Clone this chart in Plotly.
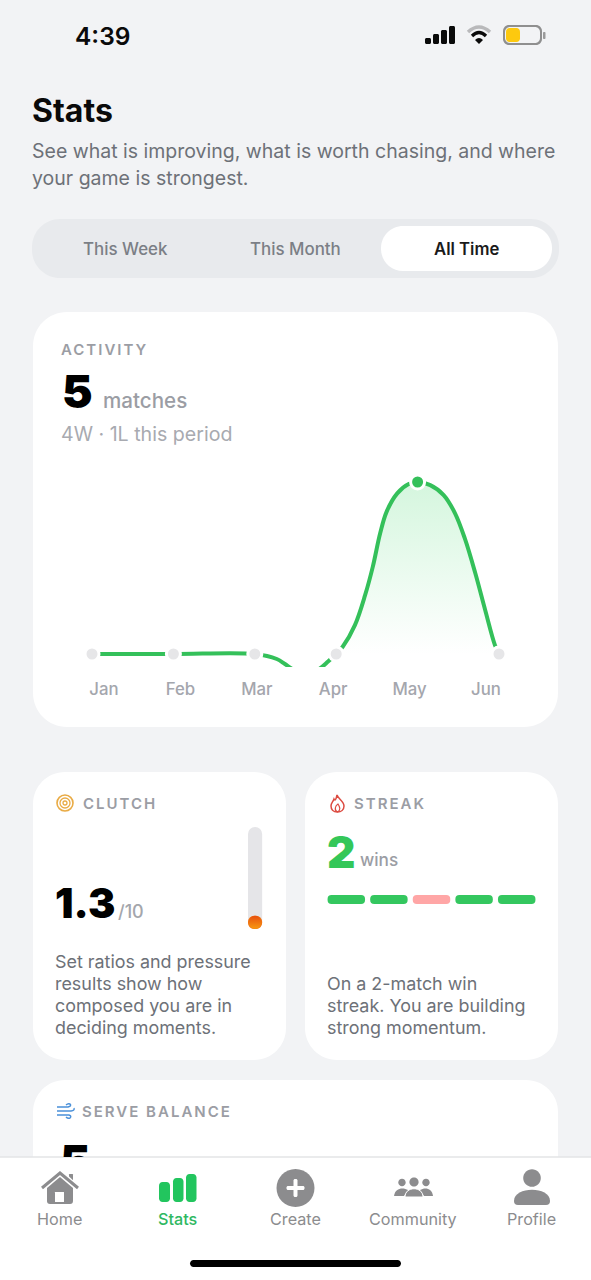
import plotly.graph_objects as go

W, H = 591, 1280

# ---- data ----
months = ["Jan", "Feb", "Mar", "Apr", "May", "Jun"]
matches = [0, 0, 0, 0, 5, 0]
# the drawn curve (month index, height in matches)
curve_x = [0, 1, 2, 2.27, 2.37, 2.45, 2.62, 2.8, 2.9, 3, 3.08, 3.23, 3.355, 3.45, 3.54, 3.62, 3.75, 3.89, 4,
           4.155, 4.32, 4.46, 4.58, 4.71, 4.83, 4.95, 5]
curve_y = [0, 0, 0, -0.145, -0.29, -0.42, -0.62, -0.42, -0.22, 0, 0.21, 0.84, 1.71, 2.54, 3.51, 4.14, 4.67, 4.94, 5,
           4.91, 4.62, 4.09, 3.36, 2.34, 1.28, 0.26, 0]
streak_results = ["W", "W", "L", "W", "W"]
clutch_score = 1.3
clutch_max = 10

C_BG = "#f2f3f5"
C_GREEN = "#34c05a"
C_LABEL = "#9b9da4"
C_BODY = "#6d7178"
C_NAV = "#8c8c8e"
FONT = "Inter"

def fx(x): return x / W
def fy(y): return 1 - y / H
def P(x, y): return f"{fx(x):.5f},{fy(y):.5f}"

shapes, annos = [], []

def path(d_points, fill=None, stroke=None, width=0):
    shapes.append(dict(type="path", xref="paper", yref="paper", path=d_points, layer="below",
                       fillcolor=fill or "rgba(0,0,0,0)",
                       line=dict(color=stroke or "rgba(0,0,0,0)", width=width)))

def cmd(*items):
    return " ".join(it if isinstance(it, str) else P(*it) for it in items)

def rrect(x0, y0, x1, y1, r, fill):
    k = r * (1 - 0.5523)
    path(cmd("M", (x0 + r, y0), "L", (x1 - r, y0), "C", (x1 - k, y0), (x1, y0 + k), (x1, y0 + r),
             "L", (x1, y1 - r), "C", (x1, y1 - k), (x1 - k, y1), (x1 - r, y1),
             "L", (x0 + r, y1), "C", (x0 + k, y1), (x0, y1 - k), (x0, y1 - r),
             "L", (x0, y0 + r), "C", (x0, y0 + k), (x0 + k, y0), (x0 + r, y0), "Z"), fill=fill)

def circle(cx, cy, r, fill=None, stroke=None, width=0):
    k = 0.5523 * r
    path(cmd("M", (cx + r, cy),
             "C", (cx + r, cy + k), (cx + k, cy + r), (cx, cy + r),
             "C", (cx - k, cy + r), (cx - r, cy + k), (cx - r, cy),
             "C", (cx - r, cy - k), (cx - k, cy - r), (cx, cy - r),
             "C", (cx + k, cy - r), (cx + r, cy - k), (cx + r, cy), "Z"),
         fill=fill, stroke=stroke, width=width)

def text(x, y, s, size, color, weight=400, anchor="left"):
    dx = -1 if anchor == "left" else 0
    annos.append(dict(x=fx(x + dx), y=fy(y), xref="paper", yref="paper", text=s, showarrow=False,
                      xanchor=anchor, yanchor="middle", align=anchor, borderpad=0,
                      font=dict(family=FONT, size=size, color=color, weight=weight)))

# ---- page furniture ----
rrect(32, 219, 559, 278, 28, "#e8eaed")
rrect(381, 226, 552, 271, 22, "#ffffff")
rrect(33, 312, 558, 727, 34, "#ffffff")
rrect(33, 772, 286, 1060, 32, "#ffffff")
rrect(305, 772, 558, 1060, 32, "#ffffff")
rrect(33, 1080, 558, 1200, 32, "#ffffff")

# status bar
text(75, 36, "4:39", 24.5, "#0a0a0a", 600)
for x0, top in [(425, 38), (433, 34), (441, 30), (449, 26)]:
    rrect(x0, top, x0 + 6, 44, 1.5, "#0a0a0a")
path(cmd("M", (468, 32), "Q", (479, 22), (490, 32)), stroke="#b9b9bb", width=3.5)
path(cmd("M", (472, 36), "Q", (479, 29), (486, 36)), stroke="#0a0a0a", width=3.2)
path(cmd("M", (475, 40), "L", (479, 44), "L", (483, 40), "Q", (479, 36), (475, 40), "Z"), fill="#0a0a0a")
rrect(503, 25, 542, 45, 6, "#8f8f8f")
rrect(505, 27, 540, 43, 5, "#f2f3f5")
rrect(506, 28, 520, 42, 3.5, "#fdc90f")
rrect(543, 32, 545.5, 39, 1, "#9a9a9a")

# heading
text(32, 110, "Stats", 32, "#0a0a0a", 700)
text(32, 151, "See what is improving, what is worth chasing, and where", 19.5, C_BODY)
text(32, 178, "your game is strongest.", 19.5, C_BODY)

text(125, 249, "This Week", 16.9, "#7b7f86", 500, "center")
text(295, 249, "This Month", 16.9, "#7b7f86", 500, "center")
text(466, 249, "All Time", 16.7, "#1a1a1a", 600, "center")

# activity card
text(61, 349.6, "ACTIVITY", 15, C_LABEL, 600)
text(62, 391, "5", 46, "#000000", 900)
text(103, 401, "matches", 20.6, C_LABEL, 500)
text(61, 434, "4W · 1L this period", 19.6, "#a8aab0", 400)

# clutch card
circle(65, 803, 8, stroke="#e9ab45", width=1.6)
circle(65, 803, 5, stroke="#e9ab45", width=1.3)
circle(65, 803, 2, stroke="#e9ab45", width=1.3)
text(83, 803.6, "CLUTCH", 15, C_LABEL, 600)
text(55, 903, "1.3", 41, "#000000", 900)
text(118, 911, "/10", 18, "#a4a6ac", 500)
for y, s in zip([961, 983, 1005, 1027],
                ["Set ratios and pressure", "results show how", "composed you are in", "deciding moments."]):
    text(55, y, s, 17.9, C_BODY)

# streak card
path(cmd("M", (337, 795), "C", (338, 799), (344, 801), (344, 806), "C", (344, 810), (341, 812), (337.5, 812),
         "C", (333, 812), (331, 809), (331, 806), "C", (331, 803), (333, 802), (334, 799),
         "C", (335, 801), (336, 800), (337, 795), "Z"), stroke="#dc4a40", width=1.5)
path(cmd("M", (337.5, 812), "C", (334, 810), (335, 806), (338, 804), "C", (340, 807), (341, 810), (337.5, 812)),
     stroke="#dc4a40", width=1.2)
text(354, 803.6, "STREAK", 15, C_LABEL, 600)
text(327, 852, "2", 44, "#34c759", 900)
text(360, 859.4, "wins", 17.2, C_LABEL, 500)
for y, s in zip([983, 1005, 1027],
                ["On a 2-match win", "streak. You are building", "strong momentum."]):
    text(327, y, s, 17.9, C_BODY)

# serve card
for d in [cmd("M", (57, 1107), "L", (68, 1107), "Q", (72, 1106), (70, 1104), "Q", (68, 1103), (66, 1105)),
          cmd("M", (57, 1111), "L", (71, 1111), "Q", (75, 1110.5), (74, 1108)),
          cmd("M", (57, 1115), "L", (69, 1115), "Q", (72, 1116), (70, 1118), "Q", (68, 1119), (66, 1117))]:
    path(d, stroke="#4a90d9", width=1.4)
text(82, 1111.6, "SERVE BALANCE", 15, C_LABEL, 600)

# bottom nav (covers the card)
shapes.append(dict(type="rect", xref="paper", yref="paper", x0=0, x1=1, y0=0, y1=fy(1157), layer="below",
                   fillcolor="#ffffff", line=dict(width=0)))
shapes.append(dict(type="line", xref="paper", yref="paper", x0=0, x1=1, y0=fy(1157), y1=fy(1157), layer="below",
                   line=dict(color="#e3e4e6", width=1.5)))
# home
rrect(69, 1174, 73, 1184, 0.5, C_NAV)
path(cmd("M", (40, 1190), "L", (60, 1172), "L", (79, 1190)), stroke="#ffffff", width=6)
path(cmd("M", (42, 1188), "L", (60, 1173), "L", (78, 1188)), stroke=C_NAV, width=3)
path(cmd("M", (60, 1177), "L", (73, 1188), "L", (73, 1201), "Q", (73, 1204), (70, 1204), "L", (50, 1204),
         "Q", (47, 1204), (47, 1201), "L", (47, 1188), "Z"), fill=C_NAV)
rrect(55, 1192, 64, 1202, 0.3, "#ffffff")
# stats
rrect(159, 1182, 170, 1202, 3.5, "#22c55e")
rrect(173, 1178, 183.5, 1202, 3.5, "#22c55e")
rrect(186, 1174, 196.5, 1202, 3.5, "#22c55e")
# create
circle(295.5, 1188, 19, fill=C_NAV)
rrect(293.5, 1179, 297.5, 1197, 1.5, "#ffffff")
rrect(286.5, 1186, 304.5, 1190, 1.5, "#ffffff")
# community
circle(414, 1182, 4.6, fill=C_NAV)
circle(402, 1182.5, 3.7, fill=C_NAV)
circle(426, 1182.5, 3.7, fill=C_NAV)
path(cmd("M", (394, 1196), "C", (395, 1188), (403, 1187), (408, 1190), "L", (404, 1196), "Z"), fill=C_NAV)
path(cmd("M", (433, 1196), "C", (432, 1188), (425, 1187), (420, 1190), "L", (424, 1196), "Z"), fill=C_NAV)
path(cmd("M", (405, 1197), "C", (405, 1186), (423, 1186), (423, 1197), "Z"), fill=C_NAV, stroke="#ffffff", width=1)
# profile
circle(532, 1178, 8.8, fill=C_NAV)
path(cmd("M", (514, 1201), "C", (514, 1186), (550, 1186), (550, 1201), "Q", (550, 1205), (546, 1205),
         "L", (518, 1205), "Q", (514, 1205), (514, 1201), "Z"), fill=C_NAV)

for x, s, c, w in [(59, "Home", C_NAV, 400), (177, "Stats", "#2fb862", 500), (295, "Create", C_NAV, 400),
                   (413, "Community", C_NAV, 400), (531, "Profile", C_NAV, 400)]:
    text(x, 1219, s, 16.2, c, w, "center")

rrect(190, 1260, 401, 1267, 3.5, "#000000")

# ---- traces ----
fig = go.Figure()

# activity: points sit on one scale, month labels on a slightly narrower one
fig.add_trace(go.Scatter(
    x=curve_x, y=curve_y, mode="lines",
    line=dict(shape="spline", smoothing=1.0, color=C_GREEN, width=4),
    fill="tozeroy",
    fillgradient=dict(type="vertical", start=0, stop=5,
                      colorscale=[[0, "rgba(70,215,110,0)"], [1, "rgba(70,215,110,0.23)"]]),
    hoverinfo="skip", xaxis="x", yaxis="y", showlegend=False))
peak = max(matches)
fig.add_trace(go.Scatter(
    x=list(range(len(months))), y=matches, mode="markers",
    marker=dict(size=14, color=[C_GREEN if v == peak else "#e6e6e8" for v in matches],
                line=dict(color="#ffffff", width=3)),
    hoverinfo="skip", xaxis="x", yaxis="y", showlegend=False, cliponaxis=False))
fig.add_trace(go.Scatter(
    x=months, y=matches, mode="markers", marker=dict(opacity=0), hoverinfo="skip",
    xaxis="x2", yaxis="y", showlegend=False))

# clutch gauge: a bar with an explicit base rounds at both ends
def pill(value, color, radius):
    return go.Bar(x=["clutch"], y=[value], base=[0], width=[1],
                  marker=dict(color=color, cornerradius=radius, line_width=0),
                  hoverinfo="skip", xaxis="x3", yaxis="y3", showlegend=False)

fig.add_trace(pill(clutch_max, "#e5e5e8", 8))
fig.add_trace(pill(clutch_score, "#f2740f", 6.5))
fig.add_trace(go.Scatter(
    x=["clutch"], y=[clutch_score / 2], mode="markers",
    marker=dict(size=13, color="#e8500f", gradient=dict(type="vertical", color="#f79a12"), line_width=0),
    hoverinfo="skip", xaxis="x3", yaxis="y3", showlegend=False, cliponaxis=False))

# streak strip
n = len(streak_results)
colors = ["#34c75f" if r == "W" else "#ffa6a6" for r in streak_results]
fig.add_trace(go.Bar(
    x=list(range(n)), y=[1] * n, base=[0] * n, width=[0.88] * n,
    marker=dict(color=colors, cornerradius=4.5, line_width=0),
    hoverinfo="skip", xaxis="x4", yaxis="y4", showlegend=False))

# clipped serve-balance number
fig.add_trace(go.Scatter(
    x=[60], y=[1166.5], mode="text", text=["5"], textposition="middle right",
    textfont=dict(family=FONT, size=46, color="#000000", weight=900),
    hoverinfo="skip", xaxis="x5", yaxis="y5", showlegend=False))

def xdom(a, b): return [a / W, b / W]
def ydom(top, bottom): return [1 - bottom / H, 1 - top / H]

hidden = dict(visible=False, fixedrange=True)
# activity scale: x index i -> 92 + 81.4 i ; y value v -> 654 - 34.4 v
ax0, ax1 = 40, 552
top, bot = 470, 667
fig.update_layout(
    width=W, height=H, margin=dict(l=0, r=0, t=0, b=0), autosize=False,
    paper_bgcolor=C_BG, plot_bgcolor="rgba(0,0,0,0)", barmode="overlay", dragmode=False,
    showlegend=False, shapes=shapes, annotations=annos,
    xaxis=dict(domain=xdom(ax0, ax1), range=[(ax0 - 92) / 81.4, (ax1 - 92) / 81.4], anchor="y",
               showgrid=False, zeroline=False, showline=False, showticklabels=False, ticks="", fixedrange=True),
    xaxis2=dict(overlaying="x", side="bottom", anchor="y", type="linear",
                range=[(ax0 - 104) / 76.4, (ax1 - 104) / 76.4],
                tickmode="array", tickvals=list(range(len(months))), ticktext=months,
                showgrid=False, zeroline=False, showline=False, fixedrange=True,
                ticks="outside", ticklen=7, tickcolor="rgba(0,0,0,0)", tickwidth=1,
                tickfont=dict(family=FONT, size=16.8, color="#a4a6ad", weight=500)),
    yaxis=dict(domain=ydom(top, bot), range=[(654 - bot) / 34.4, (654 - top) / 34.4], anchor="x", **hidden),
    xaxis3=dict(domain=xdom(248, 264), anchor="y3", **hidden),
    yaxis3=dict(domain=ydom(827, 929), range=[0, clutch_max], anchor="x3", **hidden),
    xaxis4=dict(domain=xdom(325, 538), range=[-0.5, 4.5], anchor="y4", **hidden),
    yaxis4=dict(domain=ydom(895, 904), range=[0, 1], anchor="x4", **hidden),
    xaxis5=dict(domain=xdom(33, 200), range=[33, 200], anchor="y5", **hidden),
    yaxis5=dict(domain=ydom(1130, 1157), range=[1157, 1130], anchor="x5", **hidden),
)

post = """
document.body.style.margin='0';
document.documentElement.style.background='#f2f3f5';
var sp=['ACTIVITY','CLUTCH','STREAK','SERVE BALANCE'];
document.querySelectorAll('.annotation-text').forEach(function(t){
  if(sp.indexOf(t.textContent)>=0){t.style.letterSpacing='2px';}
});
"""
fig.write_html("out.html", post_script=post, config=dict(displayModeBar=False, staticPlot=True))
